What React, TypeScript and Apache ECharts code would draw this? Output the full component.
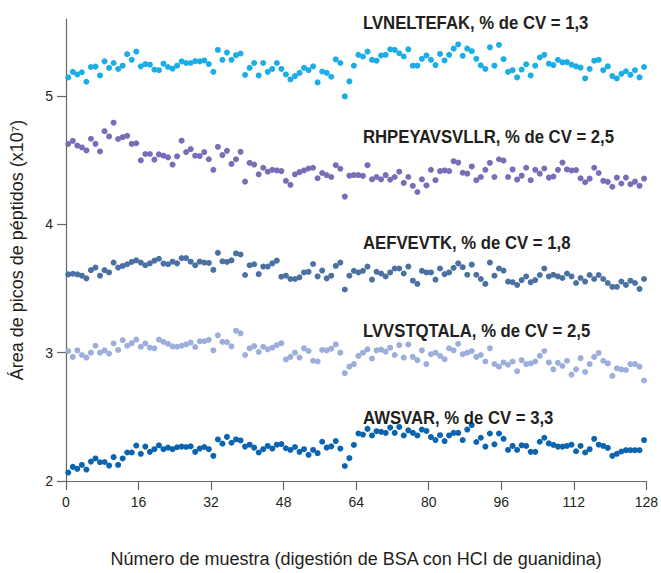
import React, { useEffect, useRef } from "react";
import * as echarts from "echarts";

const xTicks = [0, 16, 32, 48, 64, 80, 96, 112, 128];
const yTicks = [2, 3, 4, 5];

const seriesNames = ["LVNELTEFAK", "RHPEYAVSVLLR", "AEFVEVTK", "LVVSTQTALA", "AWSVAR"];
const seriesLabels = [
  "LVNELTEFAK, % de CV = 1,3",
  "RHPEYAVSVLLR, % de CV = 2,5",
  "AEFVEVTK, % de CV = 1,8",
  "LVVSTQTALA, % de CV = 2,5",
  "AWSVAR, % de CV = 3,3",
];
const seriesColors = ["#1BADE6", "#7A6CB6", "#4B70A2", "#9BAEDC", "#0A64AF"];

const lvneltefak = [
  5.145, 5.188, 5.168, 5.185, 5.111, 5.226, 5.229, 5.16, 5.27, 5.219, 5.257, 5.211, 5.236, 5.326, 5.282, 5.346,
  5.231, 5.249, 5.244, 5.206, 5.201, 5.252, 5.226, 5.213, 5.236, 5.27, 5.257, 5.257, 5.272, 5.27, 5.277, 5.249,
  5.188, 5.359, 5.282, 5.338, 5.282, 5.318, 5.331, 5.165, 5.219, 5.257, 5.16, 5.257, 5.188, 5.211, 5.257, 5.211,
  5.168, 5.129, 5.155, 5.18, 5.219, 5.201, 5.231, 5.106, 5.191, 5.18, 5.15, 5.285, 5.257, 4.997, 5.114, 5.236,
  5.321, 5.308, 5.346, 5.282, 5.275, 5.316, 5.321, 5.364, 5.359, 5.333, 5.308, 5.364, 5.236, 5.236, 5.29, 5.316,
  5.282, 5.241, 5.328, 5.277, 5.321, 5.369, 5.402, 5.313, 5.369, 5.349, 5.29, 5.239, 5.211, 5.379, 5.236, 5.399,
  5.287, 5.188, 5.201, 5.145, 5.206, 5.247, 5.16, 5.236, 5.3, 5.321, 5.252, 5.241, 5.282, 5.262, 5.264, 5.244,
  5.231, 5.221, 5.137, 5.211, 5.275, 5.282, 5.201, 5.231, 5.155, 5.137, 5.173, 5.193, 5.165, 5.201, 5.145, 5.226,
];

const rhpeyavsvllr = [
  4.627, 4.65, 4.614, 4.599, 4.576, 4.667, 4.627, 4.568, 4.726, 4.685, 4.792, 4.665, 4.68, 4.69, 4.627, 4.632,
  4.499, 4.548, 4.548, 4.504, 4.545, 4.535, 4.522, 4.466, 4.53, 4.652, 4.563, 4.586, 4.535, 4.532, 4.563, 4.507,
  4.425, 4.604, 4.54, 4.573, 4.471, 4.507, 4.565, 4.333, 4.479, 4.466, 4.39, 4.441, 4.41, 4.425, 4.42, 4.415,
  4.339, 4.308, 4.39, 4.407, 4.42, 4.435, 4.441, 4.359, 4.4, 4.384, 4.369, 4.461, 4.433, 4.216, 4.379, 4.384,
  4.384, 4.377, 4.461, 4.351, 4.369, 4.351, 4.384, 4.349, 4.369, 4.41, 4.323, 4.369, 4.3, 4.252, 4.351, 4.303,
  4.425, 4.344, 4.415, 4.42, 4.415, 4.492, 4.481, 4.402, 4.395, 4.451, 4.344, 4.369, 4.425, 4.479, 4.369, 4.507,
  4.497, 4.369, 4.428, 4.349, 4.379, 4.441, 4.344, 4.425, 4.395, 4.435, 4.364, 4.372, 4.425, 4.481, 4.428, 4.42,
  4.423, 4.359, 4.328, 4.356, 4.441, 4.4, 4.339, 4.331, 4.293, 4.364, 4.318, 4.364, 4.313, 4.333, 4.3, 4.356,
];

const aefvevtk = [
  3.61, 3.615, 3.61, 3.6, 3.579, 3.643, 3.663, 3.6, 3.643, 3.625, 3.702, 3.663, 3.676, 3.689, 3.707, 3.719,
  3.702, 3.681, 3.696, 3.717, 3.732, 3.694, 3.689, 3.709, 3.696, 3.737, 3.737, 3.709, 3.681, 3.709, 3.702, 3.699,
  3.645, 3.778, 3.712, 3.707, 3.719, 3.773, 3.765, 3.605, 3.681, 3.689, 3.612, 3.671, 3.671, 3.696, 3.717, 3.592,
  3.6, 3.574, 3.574, 3.587, 3.625, 3.63, 3.691, 3.594, 3.64, 3.579, 3.6, 3.676, 3.702, 3.492, 3.6, 3.638,
  3.625, 3.638, 3.671, 3.569, 3.63, 3.617, 3.594, 3.625, 3.656, 3.656, 3.617, 3.671, 3.561, 3.536, 3.638, 3.625,
  3.625, 3.569, 3.656, 3.612, 3.625, 3.661, 3.696, 3.666, 3.607, 3.686, 3.607, 3.574, 3.536, 3.702, 3.6, 3.656,
  3.64, 3.554, 3.549, 3.528, 3.566, 3.594, 3.549, 3.566, 3.605, 3.656, 3.594, 3.607, 3.594, 3.582, 3.617, 3.594,
  3.543, 3.582, 3.554, 3.605, 3.574, 3.605, 3.574, 3.543, 3.513, 3.513, 3.554, 3.528, 3.561, 3.543, 3.497, 3.574,
];

const lvvstqtala = [
  3.013, 2.967, 3.018, 2.982, 2.962, 3.0, 3.054, 3.0, 3.018, 2.993, 3.072, 3.021, 3.097, 3.054, 3.074, 3.102,
  3.046, 3.072, 3.039, 3.034, 3.102, 3.084, 3.069, 3.049, 3.046, 3.054, 3.064, 3.079, 3.044, 3.089, 3.089, 3.1,
  3.018, 3.135, 3.084, 3.082, 3.049, 3.171, 3.151, 2.982, 3.034, 3.051, 3.005, 3.046, 3.026, 3.039, 3.059, 3.074,
  2.947, 2.967, 3.0, 2.962, 3.034, 3.013, 2.937, 2.931, 3.021, 3.018, 3.031, 3.064, 3.0, 2.84, 2.891, 2.911,
  2.975, 3.0, 3.026, 2.954, 3.018, 3.023, 3.008, 3.039, 2.982, 3.059, 2.962, 3.064, 2.967, 2.942, 3.018, 2.911,
  2.988, 3.0, 2.975, 2.949, 3.034, 3.018, 3.069, 2.988, 3.0, 3.013, 2.967, 2.982, 2.931, 3.034, 2.911, 2.891,
  2.924, 2.906, 2.931, 2.855, 2.942, 2.911, 2.916, 2.931, 2.975, 3.013, 2.924, 2.87, 2.921, 2.896, 2.937, 2.829,
  2.87, 2.957, 2.85, 2.911, 2.967, 2.998, 2.937, 2.916, 2.819, 2.878, 2.87, 2.865, 2.911, 2.911, 2.891, 2.783,
];

const awsvar = [
  2.066, 2.11, 2.095, 2.125, 2.089, 2.151, 2.176, 2.146, 2.148, 2.12, 2.186, 2.125, 2.176, 2.222, 2.222, 2.276,
  2.212, 2.268, 2.227, 2.248, 2.278, 2.248, 2.26, 2.248, 2.263, 2.268, 2.265, 2.27, 2.227, 2.253, 2.265, 2.248,
  2.196, 2.324, 2.291, 2.344, 2.298, 2.324, 2.316, 2.268, 2.283, 2.26, 2.222, 2.248, 2.273, 2.253, 2.283, 2.288,
  2.255, 2.242, 2.265, 2.227, 2.248, 2.204, 2.242, 2.217, 2.306, 2.26, 2.27, 2.311, 2.253, 2.117, 2.179, 2.281,
  2.37, 2.362, 2.406, 2.355, 2.388, 2.383, 2.375, 2.416, 2.375, 2.421, 2.355, 2.395, 2.375, 2.355, 2.401, 2.39,
  2.342, 2.319, 2.357, 2.311, 2.355, 2.375, 2.375, 2.319, 2.401, 2.436, 2.304, 2.337, 2.268, 2.37, 2.286, 2.37,
  2.329, 2.242, 2.273, 2.242, 2.278, 2.273, 2.227, 2.227, 2.306, 2.337, 2.293, 2.281, 2.268, 2.268, 2.273, 2.283,
  2.232, 2.273, 2.222, 2.248, 2.329, 2.283, 2.273, 2.258, 2.196, 2.212, 2.23, 2.24, 2.24, 2.24, 2.24, 2.319,
];

const allSeries = [lvneltefak, rhpeyavsvllr, aefvevtk, lvvstqtala, awsvar];
const labelTops = [23, 137, 243, 331, 418];

const FONT = "'Liberation Sans', Arial, sans-serif";
const TEXT_COLOR = "#231f20";

export default function App() {
  const ref = useRef<HTMLDivElement>(null);
  useEffect(() => {
    if (!ref.current) return;
    const chart = echarts.init(ref.current, undefined, { renderer: "svg" });
    const series: any[] = allSeries.map((vals, si) => ({
      name: seriesNames[si],
      type: "scatter",
      symbol: "circle",
      symbolSize: 6,
      itemStyle: { color: seriesColors[si], opacity: 1 },
      data: vals.map((v, i) => [i + 0.5, v]),
      z: 2,
    }));
    chart.setOption({
      animation: false,
      backgroundColor: "#ffffff",
      textStyle: { fontFamily: FONT },
      grid: { left: 66, right: 11, top: 19, bottom: 83, containLabel: false },
      xAxis: {
        type: "value",
        min: 0,
        max: 128,
        interval: 16,
        name: "Número de muestra (digestión de BSA con HCI de guanidina)",
        nameLocation: "middle",
        nameGap: 69,
        nameTextStyle: { fontFamily: FONT, fontSize: 18, color: TEXT_COLOR },
        axisLine: { show: true, lineStyle: { color: "#666", width: 1.2 } },
        axisTick: { show: true, length: 9, lineStyle: { color: "#666", width: 1.2 }, customValues: xTicks },
        axisLabel: { fontFamily: FONT, fontSize: 14, color: TEXT_COLOR, margin: 14, customValues: xTicks },
        splitLine: { show: false },
      },
      yAxis: {
        type: "value",
        min: 2,
        max: 5.6,
        interval: 1,
        name: "Área de picos de péptidos (x10⁷)",
        nameLocation: "middle",
        nameGap: 40,
        nameRotate: 90,
        nameTextStyle: { fontFamily: FONT, fontSize: 18, color: TEXT_COLOR },
        axisLine: { show: true, lineStyle: { color: "#666", width: 1.2 } },
        axisTick: { show: true, length: 9, lineStyle: { color: "#666", width: 1.2 }, customValues: yTicks },
        axisLabel: { fontFamily: FONT, fontSize: 14, color: TEXT_COLOR, margin: 13, customValues: yTicks },
        splitLine: { show: false },
      },
      graphic: seriesLabels.map((t, i) => ({
        type: "text",
        x: 363,
        y: labelTops[i],
        scaleX: 0.88,
        z: 10,
        style: {
          text: t,
          x: 0,
          y: 0,
          fontFamily: FONT,
          fontWeight: "bold",
          fontSize: 19,
          fill: TEXT_COLOR,
          verticalAlign: "middle",
          align: "left",
        },
      })),
      series,
    });
    return () => chart.dispose();
  }, []);
  return <div ref={ref} style={{ position: "absolute", left: 0, top: 0, width: 661, height: 573 }} />;
}
